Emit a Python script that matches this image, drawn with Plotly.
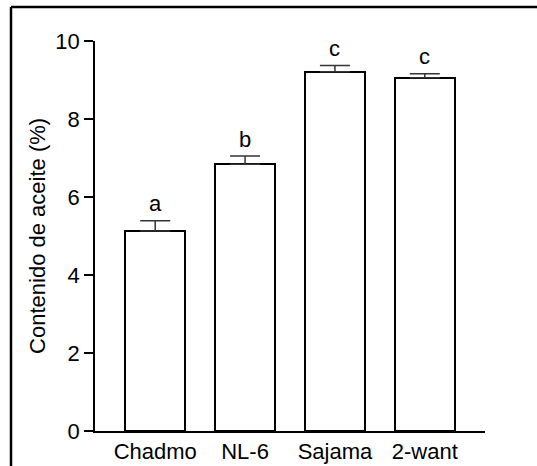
import plotly.graph_objects as go

# Oil content per variety (mean and standard error) with significance letters
variedades = ["Chadmo", "NL-6", "Sajama", "2-want"]
aceite = [5.13, 6.84, 9.21, 9.06]
error = [0.26, 0.21, 0.16, 0.10]
letras = ["a", "b", "c", "c"]
ticks_y = [0, 2, 4, 6, 8, 10]

FONT = "Arial, Liberation Sans, sans-serif"

fig = go.Figure()
fig.add_trace(go.Bar(
    x=list(range(len(variedades))),
    y=aceite,
    width=0.67,
    marker=dict(color="white", line=dict(color="black", width=2)),
    error_y=dict(type="data", symmetric=False, array=error,
                 arrayminus=[0] * len(error), color="#333333",
                 thickness=1.5, width=15),
    showlegend=False,
))

for i, (m, e, t) in enumerate(zip(aceite, error, letras)):
    fig.add_annotation(x=i, y=m + e, text=t, showarrow=False,
                       xref="x", yref="y", yanchor="middle", yshift=17,
                       font=dict(family=FONT, size=22, color="black"))

fig.add_annotation(x=-0.149, y=0.5, xref="paper", yref="paper",
                   text="Contenido de aceite (%)", textangle=-90,
                   showarrow=False, xanchor="center", yanchor="middle",
                   font=dict(family=FONT, size=22, color="black"))

# Frame edges (top and left) around the figure
fx0 = (11 - 95) / 390
fy1 = (430.5 - 7) / 389.5
fig.add_shape(type="line", xref="paper", yref="paper",
              x0=fx0, x1=1.3, y0=fy1, y1=fy1,
              line=dict(color="black", width=2.5), layer="above")
fig.add_shape(type="line", xref="paper", yref="paper",
              x0=fx0, x1=fx0, y0=-0.3, y1=fy1,
              line=dict(color="black", width=2.5), layer="above")

fig.update_layout(
    width=537, height=466,
    margin=dict(l=95, r=52, t=41, b=35, autoexpand=False),
    paper_bgcolor="white", plot_bgcolor="white",
    font=dict(family=FONT, size=22, color="black"),
    bargap=0,
)
fig.update_xaxes(
    range=[-0.67, 3.67], automargin=False,
    tickvals=list(range(len(variedades))), ticktext=variedades,
    showline=True, linecolor="black", linewidth=1.5,
    ticks="", showgrid=False, zeroline=False,
    tickfont=dict(family=FONT, size=22, color="black"),
)
fig.update_yaxes(
    range=[0, 10], tickvals=ticks_y, automargin=False,
    showline=True, linecolor="black", linewidth=1.5,
    ticks="outside", ticklen=9, tickwidth=1.5, tickcolor="black",
    showgrid=False, zeroline=False,
    tickfont=dict(family=FONT, size=22, color="black"),
)

fig.write_html("out.html")
